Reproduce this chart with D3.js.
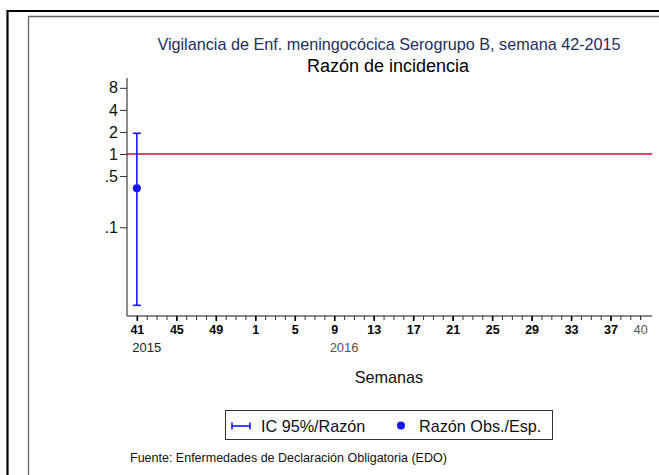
<!DOCTYPE html>
<html><head><meta charset="utf-8">
<script src="https://cdn.jsdelivr.net/npm/d3@7"></script>
<style>body{margin:0;background:#fff}svg{display:block;font-family:"Liberation Sans",Arial,sans-serif}</style>
</head><body>
<script>
// ---- data ----
const weeks = [41,42,43,44,45,46,47,48,49,50,51,52,1,2,3,4,5,6,7,8,9,10,11,12,13,14,15,16,17,18,19,20,21,22,23,24,25,26,27,28,29,30,31,32,33,34,35,36,37,38,39,40];
const weekYears = weeks.map((w,i)=> i<12 ? 2015 : 2016);
const ratioWeekIdx = [0];
const ratioValues = [0.34];
const ciLower = [0.0086];
const ciUpper = [1.92];
const yTickValues = [0.1, 0.5, 1, 2, 4, 8];
const yTickLabels = [".1", ".5", "1", "2", "4", "8"];
const majorWeekIdx = [0,4,8,12,16,20,24,28,32,36,40,44,48];
const lastWeekIdx = [51];
const yearLabels = ["2015","2016"];
const yearLabelIdx = [1,21];
const refValue = [1];

const W=659,H=475;
const FF="Liberation Sans, Arial, sans-serif";
const svg=d3.select("body").append("svg").attr("width",W).attr("height",H);

// frames
svg.append("path").attr("d","M7.5,475 V11 H659").attr("fill","none").attr("stroke","#000").attr("stroke-width",2.2);
svg.append("path").attr("d","M28.5,475 V16.5 H659").attr("fill","none").attr("stroke","#666").attr("stroke-width",1.3);

const x=d3.scaleLinear().domain([-1,52.2]).range([127,652]);
const y=d3.scaleLog().domain([0.00615,10.9]).range([316,78]);

// titles
svg.append("text").attr("x",389).attr("y",50).attr("text-anchor","middle").attr("font-size",16.2).attr("fill","#1e2f5e")
  .text("Vigilancia de Enf. meningocócica Serogrupo B, semana 42-2015");
svg.append("text").attr("x",388).attr("y",72).attr("text-anchor","middle").attr("font-size",18).attr("fill","#000")
  .text("Razón de incidencia");

// y axis
const yAxis=svg.append("g").attr("transform","translate(127,0)")
  .call(d3.axisLeft(y).tickValues(yTickValues).tickFormat((d,i)=>yTickLabels[i]).tickSize(7).tickPadding(2));
yAxis.select(".domain").attr("stroke","#666").attr("stroke-width",1.5).attr("d","M0,78V316");
yAxis.selectAll(".tick line").attr("stroke","#333");
yAxis.selectAll(".tick text").attr("font-size",16).attr("fill","#111").attr("font-family",FF);

// x axis (minor ticks)
const xAxis=svg.append("g").attr("transform","translate(0,316)")
  .call(d3.axisBottom(x).tickValues(d3.range(weeks.length)).tickFormat("").tickSize(4));
xAxis.select(".domain").attr("stroke","#666").attr("stroke-width",1.5).attr("d","M127,0H652");
xAxis.selectAll(".tick line").attr("stroke","#333");
// major ticks + labels
const xMaj=svg.append("g").attr("transform","translate(0,316)")
  .call(d3.axisBottom(x).tickValues(majorWeekIdx).tickFormat(i=>weeks[i]).tickSize(5).tickPadding(4));
xMaj.select(".domain").remove();
xMaj.selectAll(".tick line").attr("stroke","#000").attr("stroke-width",1.6);
xMaj.selectAll(".tick text").attr("font-size",12.5).attr("font-weight","bold").attr("fill","#000").attr("font-family",FF);
const xLast=svg.append("g").attr("transform","translate(0,316)")
  .call(d3.axisBottom(x).tickValues(lastWeekIdx).tickFormat(i=>weeks[i]).tickSize(4).tickPadding(5));
xLast.select(".domain").remove();
xLast.selectAll(".tick line").attr("stroke","#333");
xLast.selectAll(".tick text").attr("font-size",12.5).attr("fill","#555").attr("font-family",FF);

svg.selectAll(".yearlab").data(yearLabels).join("text").attr("class","yearlab")
  .attr("x",(d,i)=>x(yearLabelIdx[i])).attr("y",352).attr("text-anchor","middle").attr("font-size",13)
  .attr("fill",(d,i)=>i===0?"#222":"#555").text(d=>d);

svg.append("text").attr("x",389).attr("y",383).attr("text-anchor","middle").attr("font-size",16.2).attr("fill","#111").text("Semanas");

// reference line
svg.selectAll(".ref").data(refValue).join("line").attr("class","ref")
  .attr("x1",127).attr("x2",652).attr("y1",d=>y(d)).attr("y2",d=>y(d)).attr("stroke","#c8102e").attr("stroke-width",1.5);

// error bars
const blue="#1515ff";
const eb=svg.append("g");
ratioWeekIdx.forEach((wi,i)=>{
  const cx=x(wi);
  eb.append("line").attr("x1",cx).attr("x2",cx).attr("y1",y(ciLower[i])).attr("y2",y(ciUpper[i])).attr("stroke",blue).attr("stroke-width",1.6);
  [ciLower[i],ciUpper[i]].forEach(v=>eb.append("line").attr("x1",cx-4).attr("x2",cx+4).attr("y1",y(v)).attr("y2",y(v)).attr("stroke",blue).attr("stroke-width",1.6));
});
svg.selectAll(".pt").data(ratioValues).join("circle").attr("class","pt")
  .attr("cx",(d,i)=>x(ratioWeekIdx[i])).attr("cy",d=>y(d)).attr("r",4).attr("fill",blue);

// legend
svg.append("rect").attr("x",225.5).attr("y",410.5).attr("width",327).attr("height",29).attr("fill","#fff").attr("stroke","#333").attr("stroke-width",1);
svg.append("line").attr("x1",232).attr("x2",250).attr("y1",426).attr("y2",426).attr("stroke",blue).attr("stroke-width",1.6);
svg.append("line").attr("x1",232).attr("x2",232).attr("y1",422.5).attr("y2",429.5).attr("stroke",blue).attr("stroke-width",1.6);
svg.append("line").attr("x1",250).attr("x2",250).attr("y1",422.5).attr("y2",429.5).attr("stroke",blue).attr("stroke-width",1.6);
svg.append("text").attr("x",261).attr("y",431.5).attr("font-size",16.2).attr("fill","#111").text("IC 95%/Razón");
svg.append("circle").attr("cx",401).attr("cy",425.5).attr("r",4).attr("fill",blue);
svg.append("text").attr("x",419).attr("y",431.5).attr("font-size",16.2).attr("fill","#111").text("Razón Obs./Esp.");

svg.append("text").attr("x",130).attr("y",461.5).attr("font-size",12.5).attr("fill","#111").text("Fuente: Enfermedades de Declaración Obligatoria (EDO)");
</script>
</body></html>
